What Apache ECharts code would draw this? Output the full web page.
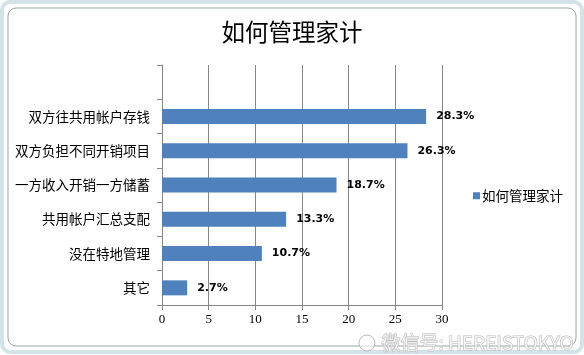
<!DOCTYPE html>
<html><head><meta charset="utf-8">
<script src="https://cdn.jsdelivr.net/npm/echarts@6/dist/echarts.min.js"></script>
<style>html,body{margin:0;padding:0;background:#fff}#c{width:584px;height:355px}</style>
</head><body><div id="c"></div>
<script>
const categories = ['其它','没在特地管理','共用帐户汇总支配','一方收入开销一方储蓄','双方负担不同开销项目','双方往共用帐户存钱',''];
const values = [2.7, 10.7, 13.3, 18.7, 26.3, 28.3, null];
const seriesName = '如何管理家计';
const titleText = '如何管理家计';
const xTicks = [0,5,10,15,20,25,30];

const chart = echarts.init(document.getElementById('c'), null, {renderer:'canvas'});
chart.setOption({
  animation:false,
  title:{text:titleText,left:'center',top:15,textStyle:{fontFamily:'Noto Sans CJK SC',fontSize:23.5,fontWeight:'normal',color:'#000'}},
  legend:{data:[seriesName],orient:'vertical',left:468,top:184,icon:'rect',itemWidth:7,itemHeight:7,itemGap:2,
    textStyle:{fontFamily:'Noto Sans CJK SC',fontSize:13.5,color:'#000',padding:[0,0,0,-3]}},
  grid:{left:162,top:65,width:280,height:240,containLabel:false},
  xAxis:{type:'value',min:xTicks[0],max:xTicks[xTicks.length-1],interval:5,
    axisLine:{show:true,lineStyle:{color:'#868686'}},
    axisTick:{show:true,inside:false,length:5,lineStyle:{color:'#868686'}},
    axisLabel:{fontFamily:'Liberation Serif',fontSize:13,color:'#000',margin:8},
    splitLine:{show:true,lineStyle:{color:'#868686',width:1}}},
  yAxis:{type:'category',data:categories,
    axisLine:{show:true,lineStyle:{color:'#868686'}},
    axisTick:{show:true,length:5,alignWithLabel:false,lineStyle:{color:'#868686'}},
    axisLabel:{fontFamily:'Noto Sans CJK SC',fontSize:13.5,color:'#000',margin:12}},
  series:[{name:seriesName,type:'bar',data:values,barWidth:15,
    itemStyle:{color:'#4f81bd'},
    label:{show:true,position:'right',distance:10,formatter:p=>p.value==null?'':p.value.toFixed(1)+'%',
      fontFamily:'DejaVu Sans',fontWeight:'bold',fontSize:11,color:'#000'}}],
  graphic:[
    {type:'rect',shape:{x:2,y:2,width:580,height:350,r:8},style:{fill:'none',stroke:'#d3e4e8',lineWidth:4},silent:true},
    {type:'rect',shape:{x:8,y:8,width:568,height:338,r:8},style:{fill:'none',stroke:'#9aa3a6',lineWidth:1},silent:true},
    {type:'text',left:381,top:333,style:{text:'微信号: HEREISTOKYO',font:'19px "Noto Sans CJK SC"',fill:'rgba(255,255,255,0.7)',stroke:'#b8b8b8',lineWidth:1},silent:true},
    {type:'circle',shape:{cx:367,cy:343,r:8},style:{fill:'rgba(255,255,255,0.6)',stroke:'#bbbbbb',lineWidth:1},silent:true}
  ]
});
</script></body></html>
